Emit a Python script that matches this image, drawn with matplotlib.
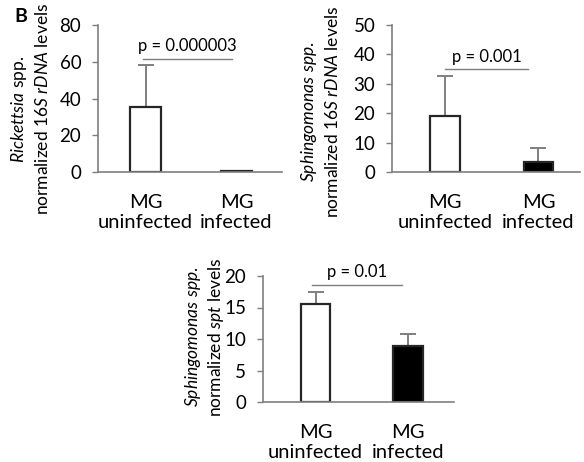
import matplotlib
matplotlib.use("Agg")
import matplotlib.pyplot as plt

plt.rcParams['font.family'] = ['Lato', 'DejaVu Sans']
plt.rcParams['mathtext.fontset'] = 'custom'
plt.rcParams['mathtext.rm'] = 'Lato'
plt.rcParams['mathtext.it'] = 'Lato:italic'

categories = ["MG\nuninfected", "MG\ninfected"]

rick_values = [35.4, 0.3]
rick_err = [22.8, 0.0]
rick_p = "p = 0.000003"
rick_sig = 61.5
rick_ticks = [0, 20, 40, 60, 80]

sph16_values = [19.0, 3.3]
sph16_err = [13.7, 5.0]
sph16_p = "p = 0.001"
sph16_sig = 35.0
sph16_ticks = [0, 10, 20, 30, 40, 50]

spt_values = [15.6, 8.9]
spt_err = [1.9, 1.9]
spt_p = "p = 0.01"
spt_sig = 18.6
spt_ticks = [0, 5, 10, 15, 20]

W, H = 584, 462
fig = plt.figure(figsize=(W / 100, H / 100), dpi=100)

def px_axes(l, r, b, t):
    return fig.add_axes([l / W, 1 - b / H, (r - l) / W, (b - t) / H])

gray = '#7f7f7f'

def panel(ax, values, err, ticks, ptext, sig, xlim, width, sig_x, p_off):
    colors = ['white', 'black']
    x = [0, 1]
    ax.bar(x, values, width=width, color=colors, edgecolor='#262626', linewidth=1.6, zorder=3)
    for xi, v, e in zip(x, values, err):
        if e > 0:
            ax.errorbar([xi], [v], yerr=[[0], [e]], fmt='none', ecolor=gray,
                        elinewidth=1.4, capsize=5.5, capthick=1.4, zorder=2)
    ax.plot(sig_x, [sig, sig], color=gray, lw=1.0, zorder=2)
    ax.annotate(ptext, xy=(sum(sig_x) / 2, sig), xytext=(0, p_off), textcoords='offset points',
                ha='center', va='center', fontsize=12)
    ax.set_xlim(*xlim)
    ax.set_ylim(ticks[0], ticks[-1])
    ax.set_yticks(ticks)
    ax.set_xticks(x)
    ax.set_xticklabels(categories, fontsize=14.5, linespacing=1.2)
    ax.tick_params(axis='x', length=0, pad=16)
    ax.tick_params(axis='y', length=4, width=1, color=gray, labelsize=13.5, pad=8)
    for s in ['top', 'right']:
        ax.spines[s].set_visible(False)
    for s in ['left', 'bottom']:
        ax.spines[s].set_color(gray)
        ax.spines[s].set_linewidth(1.2)
    ax.spines['bottom'].set_zorder(4)
    return ax

def ylabel(x1, x2, yc, line1, line2):
    fig.text(x1 / W, 1 - yc / H, line1, rotation=90, ha='center', va='center', fontsize=12.5)
    fig.text(x2 / W, 1 - yc / H, line2, rotation=90, ha='center', va='center', fontsize=12.5)

ax1 = px_axes(98, 282, 172, 25)
panel(ax1, rick_values, rick_err, rick_ticks, rick_p, rick_sig, (-0.522, 1.5), 0.34,
      [-0.03, 0.95], 9)
ylabel(19, 43, 109, r"$\mathit{Rickettsia}$ spp.", r"normalized $\mathit{16S\ rDNA}$ levels")

ax2 = px_axes(392, 580, 172, 25)
panel(ax2, sph16_values, sph16_err, sph16_ticks, sph16_p, sph16_sig, (-0.567, 1.444), 0.32,
      [0.0, 0.89], 8.5)
ylabel(309, 333, 112, r"$\mathit{Sphingomonas\ spp.}$", r"normalized $\mathit{16S\ rDNA}$ levels")

ax3 = px_axes(263, 454, 402, 276)
panel(ax3, spt_values, spt_err, spt_ticks, spt_p, spt_sig, (-0.568, 1.497), 0.32,
      [-0.04, 0.93], 9.5)
ylabel(193, 216, 337, r"$\mathit{Sphingomonas\ spp.}$", r"normalized $\mathit{spt}$ levels")

fig.text(21 / W, 1 - 17 / H, "B", fontsize=14, fontweight='bold', ha='center', va='center')

fig.savefig("out.png", dpi=100)
